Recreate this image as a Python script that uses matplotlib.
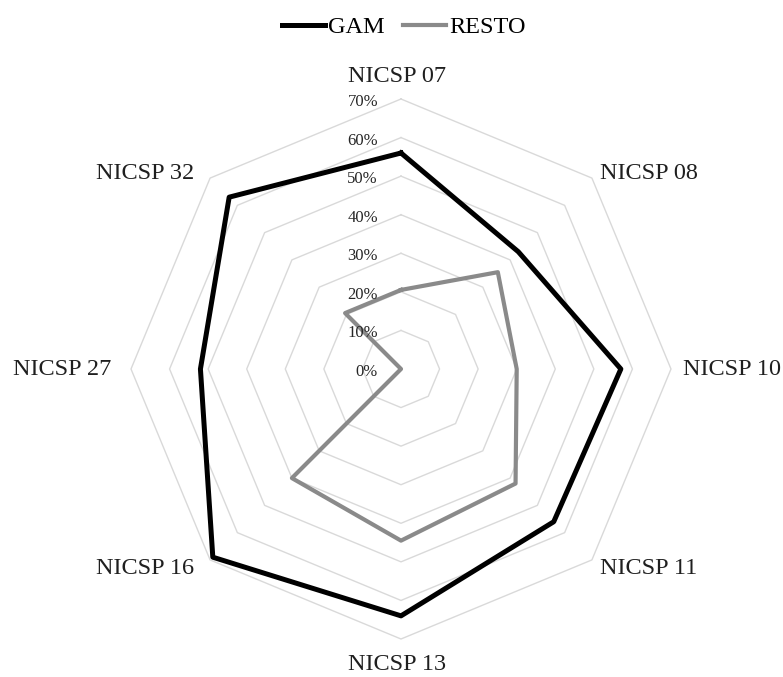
import numpy as np
import matplotlib
matplotlib.use("Agg")
from matplotlib import pyplot as plt

plt.rcParams['font.family'] = ['Liberation Serif', 'DejaVu Serif']

# Datos (porcentajes)
categorias = ['NICSP 07', 'NICSP 08', 'NICSP 10', 'NICSP 11',
              'NICSP 13', 'NICSP 16', 'NICSP 27', 'NICSP 32']
gam = [56, 43, 57, 56, 64, 69, 52, 63]
resto = [20.5, 35.5, 30, 42, 44.5, 40, 0, 20.5]
anillos = [10, 20, 30, 40, 50, 60, 70]

# Desplazamiento (px) de cada etiqueta respecto al vértice exterior
offsets = [(-4, 23, 'center'), (8, 5, 'left'), (12, 0, 'left'), (8, -9, 'left'),
           (-4, -26, 'center'), (-16, -9, 'right'), (-20, 0, 'right'), (-16, 5, 'right')]

W, H, DPI = 783, 677, 100
fig = plt.figure(figsize=(W / DPI, H / DPI), dpi=DPI)

cx, cy, r70 = 401, 369, 270
rmax = 75
R = r70 * rmax / 70
ax = fig.add_axes([(cx - R) / W, (H - cy - R) / H, 2 * R / W, 2 * R / H],
                  projection='polar')
ax.set_theta_offset(np.pi / 2)
ax.set_theta_direction(-1)
ax.set_ylim(0, rmax)
ax.grid(False)
ax.spines['polar'].set_visible(False)
ax.set_xticks([])
ax.set_yticks([])
ax.patch.set_alpha(0)

n = len(categorias)
ang = np.linspace(0, 2 * np.pi, n, endpoint=False)
ang_c = np.append(ang, ang[0])

# Cuadrícula poligonal
for r in anillos:
    ax.plot(ang_c, [r] * (n + 1), color='#d9d9d9', lw=1, clip_on=False, zorder=1)

# Series
ax.plot(ang_c, resto + resto[:1], color='#8a8a8a', lw=3.0, clip_on=False,
        zorder=3, label='RESTO')
ax.plot(ang_c, gam + gam[:1], color='black', lw=3.6, clip_on=False,
        zorder=4, label='GAM')

# Etiquetas del eje radial
for r in [0] + anillos:
    ax.annotate(f'{r}%', xy=(0, r), xytext=(-23 * 0.72, -3 * 0.72),
                textcoords='offset points', ha='right', va='center',
                fontsize=12, color='#262626', zorder=5)

# Etiquetas de categorías
for a, lab, (dx, dy, ha) in zip(ang, categorias, offsets):
    ax.annotate(lab, xy=(a, 70), xytext=(dx * 0.72, dy * 0.72),
                textcoords='offset points', ha=ha, va='center',
                fontsize=17.5, color='#1f1f1f', annotation_clip=False)

h, l = ax.get_legend_handles_labels()
fig.legend(h[::-1], l[::-1], loc='upper center', bbox_to_anchor=(0.516, 1.008),
           ncol=2, frameon=False, fontsize=17.5, handlelength=1.75,
           handletextpad=0.15, columnspacing=0.75)

plt.savefig('out.png', dpi=DPI)
